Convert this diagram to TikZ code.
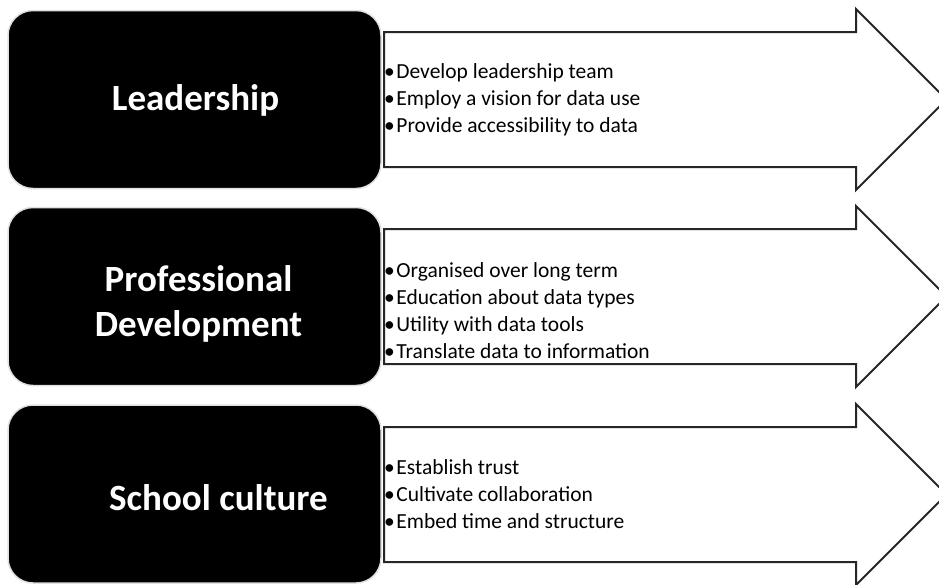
\documentclass[tikz,border=0pt]{standalone}
\usepackage{fontspec}
\setmainfont{Carlito}

\tikzset{
  topic/.style={fill=black, draw=black!12, line width=1.5pt, rounded corners=25pt,
    minimum width=373pt, minimum height=178pt},
  title/.style={text=white, align=center, inner sep=0pt,
    font=\fontsize{37}{45}\selectfont\bfseries},
  points/.style={anchor=west, inner sep=0pt, align=left,
    font=\fontsize{21.5}{27}\selectfont},
  flow/.style={draw=black!85, line width=2pt, fill=white, line join=miter},
}

\begin{document}
\begin{tikzpicture}[x=1pt, y=-1pt]
    \clip (0,0) rectangle (939,584);

    % Open arrows behind the boxes
    \foreach \c in {99.5, 296.5, 494.5} {
        \draw[flow] (384,\c-67.5) -- (856,\c-67.5) -- (856,\c-90.5) -- (946.5,\c)
            -- (856,\c+90.5) -- (856,\c+67.5) -- (384,\c+67.5) -- cycle;
    }

    % Leadership
    \node[topic] (lead) at (194.5,99.5) {};
    \node[title] (leadt) at (195.5,100) {Leadership};
    \node[points] (leadp) at (384,99.5) {%
        \textbullet\hspace{1.5pt}Develop leadership team\\
        \textbullet\hspace{1.5pt}Employ a vision for data use\\
        \textbullet\hspace{1.5pt}Provide accessibility to data};

    % Professional development
    \node[topic] (prof) at (194.5,296.5) {};
    \node[title] (proft) at (198.5,304) {Professional\\Development};
    \node[points] (profp) at (384,311) {%
        \textbullet\hspace{1.5pt}Organised over long term\\
        \textbullet\hspace{1.5pt}Education about data types\\
        \textbullet\hspace{1.5pt}Utility with data tools\\
        \textbullet\hspace{1.5pt}Translate data to information};

    % School culture
    \node[topic] (cult) at (194.5,494) {};
    \node[title] (cultt) at (218.5,498) {School culture};
    \node[points] (cultp) at (384,494) {%
        \textbullet\hspace{1.5pt}Establish trust\\
        \textbullet\hspace{1.5pt}Cultivate collaboration\\
        \textbullet\hspace{1.5pt}Embed time and structure};
\end{tikzpicture}
\end{document}
